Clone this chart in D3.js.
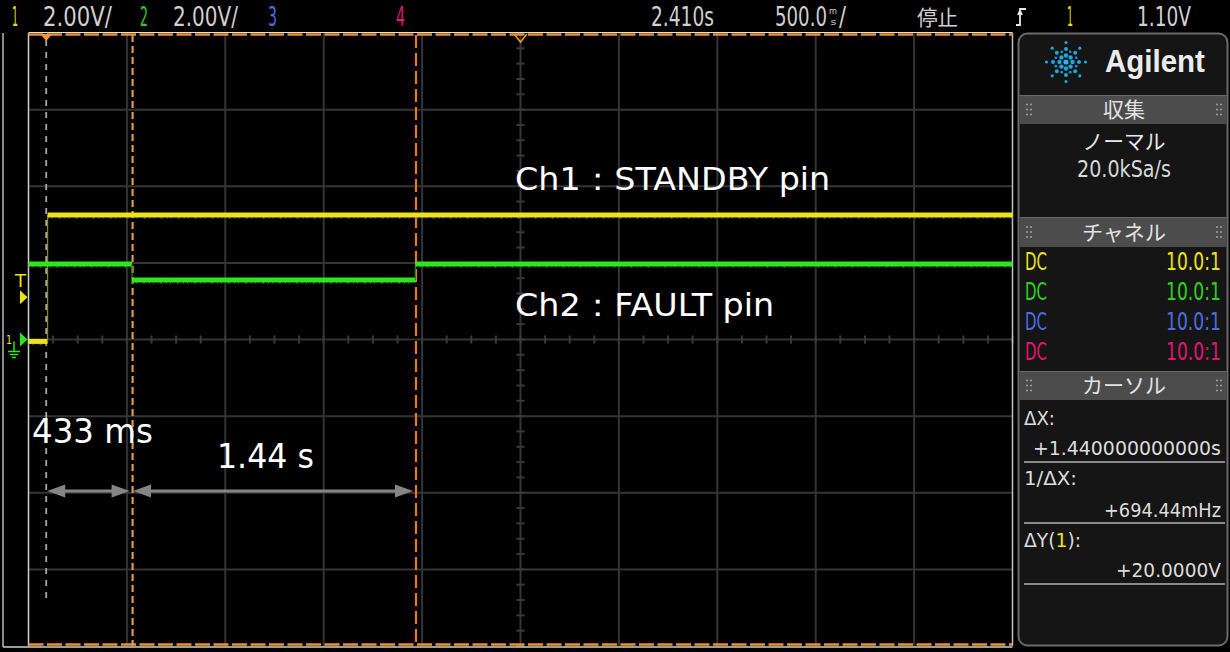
<!DOCTYPE html>
<html><head><meta charset="utf-8">
<script src="https://cdn.jsdelivr.net/npm/d3@7"></script>
<style>html,body{margin:0;padding:0;background:#000;overflow:hidden}svg{display:block}</style>
</head><body><svg id="c" width="1230" height="652"></svg>
<script>
// ---------- data ----------
const timePerDiv = 0.5;          // s / div
const voltsPerDiv = 2.0;         // V / div
const delay = 2.41;              // s (centre of screen)
const hDivs = 10, vDivs = 8;
const triggerLevel = 1.10;       // V
const triggerTime = 0;           // s

const ch1Time = [-0.09, 0.007, 0.007, 4.91];
const ch1Volt = [-0.05, -0.05, 3.25, 3.25];
const ch2Time = [-0.09, 0.436, 0.436, 1.876, 1.876, 4.91];
const ch2Volt = [1.97, 1.97, 1.55, 1.55, 1.97, 1.97];

const cursorTimes = [0.439, 1.879];
const intervalLabels = ["433 ms", "1.44 s"];
const traceLabels = ["Ch1：STANDBY pin", "Ch2：FAULT pin"];

const topLabels = ["1", "2.00V/", "2", "2.00V/", "3", "4", "2.410s", "500.0", "停止", "1", "1.10V"];
const channelCoupling = ["DC", "DC", "DC", "DC"];
const channelProbe = ["10.0:1", "10.0:1", "10.0:1", "10.0:1"];
const panelHeaders = ["収集", "チャネル", "カーソル"];
const acqMode = ["ノーマル", "20.0kSa/s"];
const cursorLabels = ["ΔX:", "+1.440000000000s", "1/ΔX:", "+694.44mHz", "+20.0000V"];

// ---------- setup ----------
const YEL = "#eee21a", GRN = "#2ee61c", BLU = "#4a6ee0", PNK = "#e0186e";
const UI = "DejaVu Sans, sans-serif";
const CJK = "Noto Sans CJK JP, sans-serif";
const svg = d3.select("#c");
svg.append("rect").attr("width", 1230).attr("height", 652).attr("fill", "#000");

const L = 28.5, R = 1012.5, T = 33, B = 646;
const x = d3.scaleLinear().domain([delay - timePerDiv * hDivs / 2, delay + timePerDiv * hDivs / 2]).range([L, R]);
const y = d3.scaleLinear().domain([-voltsPerDiv * vDivs / 2, voltsPerDiv * vDivs / 2]).range([B, T]);

// text helper: width forced by a horizontal scale transform
function txt(g, px, py, s, o) {
  const t = g.append("text").attr("x", 0).attr("y", 0)
    .attr("font-family", o.family || UI).attr("font-size", o.size || 20)
    .attr("fill", o.fill || "#d0d0d0");
  if (o.weight) t.attr("font-weight", o.weight);
  if (typeof s === "string") t.text(s);
  else s.forEach(([str, col]) => { const ts = t.append("tspan").text(str); if (col) ts.attr("fill", col); });
  const nat = t.node().getComputedTextLength();
  const sx = o.len ? o.len / nat : 1;
  const w = nat * sx;
  let sxPos = px;
  if (o.anchor === "end") sxPos = px - w;
  if (o.anchor === "middle") sxPos = px - w / 2;
  t.attr("transform", `translate(${sxPos},${py}) scale(${sx},1)`);
  return t;
}

// ---------- grid ----------
const grid = svg.append("g");
const xTicks = d3.range(0, hDivs + 1).map(i => x.domain()[0] + i * timePerDiv);
const yTicks = d3.range(0, vDivs + 1).map(i => y.domain()[0] + i * voltsPerDiv);
grid.selectAll(".vx").data(xTicks.slice(1, -1)).join("line")
  .attr("x1", d => x(d)).attr("x2", d => x(d)).attr("y1", T).attr("y2", B)
  .attr("stroke", "#343434").attr("stroke-width", 2);
grid.selectAll(".hy").data(yTicks.slice(1, -1)).join("line")
  .attr("y1", d => y(d)).attr("y2", d => y(d)).attr("x1", L).attr("x2", R)
  .attr("stroke", "#343434").attr("stroke-width", 2);
const xc = x(delay), yc = y(0);
const minorX = d3.range(0, hDivs * 4 + 1).map(i => x.domain()[0] + i * timePerDiv / 4);
grid.selectAll(".mx").data(minorX).join("line")
  .attr("x1", d => x(d)).attr("x2", d => x(d)).attr("y1", yc - 4).attr("y2", yc + 4)
  .attr("stroke", "#3a3a3a").attr("stroke-width", 2);
const minorY = d3.range(0, vDivs * 5 + 1).map(i => y.domain()[0] + i * voltsPerDiv / 5);
grid.selectAll(".my").data(minorY).join("line")
  .attr("y1", d => y(d)).attr("y2", d => y(d)).attr("x1", xc - 4).attr("x2", xc + 4)
  .attr("stroke", "#3a3a3a").attr("stroke-width", 2);

// frame
svg.append("line").attr("x1", 3).attr("x2", 3).attr("y1", T).attr("y2", B + 1).attr("stroke", "#b8b8b8").attr("stroke-width", 1.5);
svg.append("line").attr("x1", L).attr("x2", L).attr("y1", T).attr("y2", B).attr("stroke", "#d0d0d0").attr("stroke-width", 1.5);
svg.append("line").attr("x1", R).attr("x2", R).attr("y1", T).attr("y2", B).attr("stroke", "#c0c0c0").attr("stroke-width", 1.5);
svg.append("line").attr("x1", 3).attr("x2", R).attr("y1", B + 1).attr("y2", B + 1).attr("stroke", "#d0d0d0").attr("stroke-width", 1.5);
svg.append("line").attr("x1", L).attr("x2", R).attr("y1", T - 0.5).attr("y2", T - 0.5).attr("stroke", "#e0e0e0").attr("stroke-width", 1.2);
svg.append("line").attr("x1", L).attr("x2", R).attr("y1", T + 1.5).attr("y2", T + 1.5).attr("stroke", "#f09028").attr("stroke-width", 2.5).attr("stroke-dasharray", "15,3.5");
svg.append("line").attr("x1", L).attr("x2", R).attr("y1", B - 1.5).attr("y2", B - 1.5).attr("stroke", "#f09028").attr("stroke-width", 2.5).attr("stroke-dasharray", "15,3.5");

// ---------- cursors ----------
svg.append("line").attr("x1", x(triggerTime)).attr("x2", x(triggerTime)).attr("y1", 40).attr("y2", 602)
  .attr("stroke", "#a8a8a8").attr("stroke-width", 1.8).attr("stroke-dasharray", "6,6");
svg.append("line").attr("x1", x(cursorTimes[0])).attr("x2", x(cursorTimes[0])).attr("y1", T + 2).attr("y2", B)
  .attr("stroke", "#dc9a4a").attr("stroke-width", 2.2).attr("stroke-dasharray", "7,4");
svg.append("line").attr("x1", x(cursorTimes[1])).attr("x2", x(cursorTimes[1])).attr("y1", T + 2).attr("y2", B)
  .attr("stroke", "#e87c12").attr("stroke-width", 2.2).attr("stroke-dasharray", "13,5");

const tx = x(triggerTime);
svg.append("path").attr("d", `M${tx - 6},${T + 1}L${tx + 6},${T + 1}L${tx},${T + 8}Z`).attr("fill", "#f39a2a");
svg.append("path").attr("d", `M${xc - 6.5},${T + 1}L${xc},${T + 9}L${xc + 6.5},${T + 1}`).attr("fill", "none").attr("stroke", "#f39a2a").attr("stroke-width", 1.6);

// ---------- traces ----------
function drawTrace(ts, vs, col, edgeCol, noiseCol) {
  const g = svg.append("g");
  for (let i = 0; i < ts.length - 1; i++) {
    const flat = vs[i] === vs[i + 1];
    if (flat) {
      g.append("line").attr("x1", x(ts[i])).attr("x2", x(ts[i + 1]))
        .attr("y1", y(vs[i]) + 3).attr("y2", y(vs[i]) + 3)
        .attr("stroke", noiseCol).attr("stroke-width", 1.5).attr("stroke-dasharray", "1,3,1,6,2,4");
    }
    g.append("line").attr("x1", x(ts[i])).attr("x2", x(ts[i + 1]))
      .attr("y1", y(vs[i])).attr("y2", y(vs[i + 1]))
      .attr("stroke", flat ? col : edgeCol).attr("stroke-width", flat ? 5 : 1.2);
  }
}
drawTrace(ch1Time, ch1Volt, YEL, "#8f8a10", "#6a6500");
drawTrace(ch2Time, ch2Volt, GRN, "#1c8a12", "#178010");

// ---------- left markers ----------
const ty = y(triggerLevel);
txt(svg, 20.5, ty - 10, "T", { size: 17, fill: YEL, anchor: "middle", len: 11 });
svg.append("path").attr("d", `M20,${ty - 7}L27.5,${ty}L20,${ty + 7}Z`).attr("fill", YEL);
svg.append("path").attr("d", `M20,${yc - 7}L27.5,${yc}L20,${yc + 7}Z`).attr("fill", GRN);
txt(svg, 6, yc + 4, "1", { size: 13, fill: YEL, len: 6 });
svg.append("path").attr("d", `M14,${yc + 2}V${yc + 12}M8,${yc + 12}H20M10,${yc + 15}H18M12,${yc + 18}H16`)
  .attr("stroke", GRN).attr("stroke-width", 1.5).attr("fill", "none");

// ---------- annotations ----------
const ay = 491;
function dblArrow(t0, t1) {
  const a = x(t0) + 1, b = x(t1) - 3, h = 18, w = 6.5;
  svg.append("line").attr("x1", a + h - 2).attr("x2", b - h + 2).attr("y1", ay).attr("y2", ay)
    .attr("stroke", "#858585").attr("stroke-width", 3);
  svg.append("path").attr("d", `M${a},${ay}L${a + h},${ay - w}L${a + h},${ay + w}Z`).attr("fill", "#858585");
  svg.append("path").attr("d", `M${b},${ay}L${b - h},${ay - w}L${b - h},${ay + w}Z`).attr("fill", "#858585");
}
dblArrow(triggerTime, cursorTimes[0]);
dblArrow(cursorTimes[0] - 0.003, cursorTimes[1]);
txt(svg, 32, 443, intervalLabels[0], { size: 33, fill: "#fff", len: 121 });
txt(svg, 217, 468, intervalLabels[1], { size: 33, fill: "#fff", len: 97 });
txt(svg, 515, 190, traceLabels[0], { size: 32, fill: "#fff", len: 315 });
txt(svg, 515, 316, traceLabels[1], { size: 32, fill: "#fff", len: 259 });

// ---------- top bar ----------
const tb = svg.append("g");
const tbY = 26;
txt(tb, 12, tbY, topLabels[0], { size: 26, fill: "#e0dc10", len: 6 });
txt(tb, 43, tbY, topLabels[1], { size: 26, len: 69 });
txt(tb, 140, tbY, topLabels[2], { size: 26, fill: "#28d020", len: 8 });
txt(tb, 173, tbY, topLabels[3], { size: 26, len: 65 });
txt(tb, 268, tbY, topLabels[4], { size: 26, fill: BLU, len: 9 });
txt(tb, 396, tbY, topLabels[5], { size: 26, fill: PNK, len: 9 });
txt(tb, 651, tbY, topLabels[6], { size: 26, len: 63 });
txt(tb, 775, tbY, topLabels[7], { size: 26, len: 52 });
txt(tb, 829, 13.5, "m", { size: 9, len: 8 });
txt(tb, 830.5, 25, "s", { size: 9, len: 6 });
txt(tb, 839, tbY, "/", { size: 26, len: 7 });
txt(tb, 917, 25, topLabels[8], { size: 21, family: CJK, len: 41 });
tb.append("path").attr("d", "M1016,25H1020V9H1026M1018,15L1020,10.5L1022,15").attr("stroke", "#e8e8e8").attr("stroke-width", 1.8).attr("fill", "none");
txt(tb, 1067, tbY, topLabels[9], { size: 26, fill: "#e0dc10", len: 6 });
txt(tb, 1137, tbY, topLabels[10], { size: 26, len: 54 });

// ---------- right panel ----------
const p = svg.append("g");
p.append("rect").attr("x", 1018.5).attr("y", 33.5).attr("width", 209).attr("height", 612).attr("rx", 9)
  .attr("fill", "#151515").attr("stroke", "#6a6a6a").attr("stroke-width", 2);
const lg = p.append("g").attr("transform", "translate(1066,62)");
for (let k = 0; k < 8; k++) {
  const ang = k * Math.PI / 4;
  [[6.5, 2.2], [13, 2.0], [19.5, 1.6]].forEach(([r, s]) => {
    lg.append("circle").attr("cx", r * Math.cos(ang)).attr("cy", r * Math.sin(ang)).attr("r", s).attr("fill", "#1ea6de");
  });
  const a2 = ang + Math.PI / 8;
  lg.append("circle").attr("cx", 11 * Math.cos(a2)).attr("cy", 11 * Math.sin(a2)).attr("r", 1.4).attr("fill", "#1a92c8");
}
lg.append("circle").attr("r", 2.6).attr("fill", "#2ab4ea");
txt(p, 1105, 72, "Agilent", { size: 31, fill: "#ececec", weight: "bold", family: "Liberation Sans, Arial, sans-serif", len: 100 });

const headers = [[95, 29], [217, 30], [371, 29]];
headers.forEach(([hy, hh], i) => {
  p.append("rect").attr("x", 1019.5).attr("y", hy).attr("width", 207).attr("height", hh).attr("fill", "#4c4c4c");
  p.append("line").attr("x1", 1019.5).attr("x2", 1226.5).attr("y1", hy + 0.5).attr("y2", hy + 0.5).attr("stroke", "#6a6a6a");
  txt(p, 1124, hy + hh / 2 + 7.5, panelHeaders[i], { size: 21, family: CJK, fill: "#e2e2e2", anchor: "middle", len: 42 * panelHeaders[i].length / 2 });
  [1027, 1217].forEach(gx => {
    for (let r = 0; r < 3; r++) for (let c = 0; c < 2; c++)
      p.append("circle").attr("cx", gx + c * 4).attr("cy", hy + hh / 2 - 5 + r * 5).attr("r", 1).attr("fill", "#a0a0a0");
  });
});
txt(p, 1124, 149, acqMode[0], { size: 21, family: CJK, fill: "#e8e8e8", anchor: "middle", len: 83 });
txt(p, 1124, 177, acqMode[1], { size: 23, fill: "#d8d8d8", anchor: "middle", len: 94 });

const chCols = [YEL, "#2cd41c", BLU, PNK];
const rowY = [270, 300, 330, 360];
chCols.forEach((c, i) => {
  txt(p, 1025, rowY[i], channelCoupling[i], { size: 25, fill: c, len: 22 });
  txt(p, 1221, rowY[i], channelProbe[i], { size: 25, fill: c, anchor: "end", len: 55 });
});

txt(p, 1024, 425, cursorLabels[0], { size: 20, fill: "#dcdcdc", len: 31 });
txt(p, 1221, 455, cursorLabels[1], { size: 20, fill: "#dcdcdc", anchor: "end", len: 188 });
txt(p, 1024, 485, cursorLabels[2], { size: 20, fill: "#dcdcdc", len: 53 });
txt(p, 1221, 517, cursorLabels[3], { size: 20, fill: "#dcdcdc", anchor: "end", len: 117 });
txt(p, 1024, 547, [["ΔY("], ["1", YEL], ["):"]], { size: 20, fill: "#dcdcdc", len: 57 });
txt(p, 1221, 577, cursorLabels[4], { size: 20, fill: "#dcdcdc", anchor: "end", len: 105 });
[462, 523, 584].forEach(ly => p.append("line").attr("x1", 1024).attr("x2", 1225).attr("y1", ly).attr("y2", ly)
  .attr("stroke", "#8a8a8a").attr("stroke-width", 2));
</script></body></html>
